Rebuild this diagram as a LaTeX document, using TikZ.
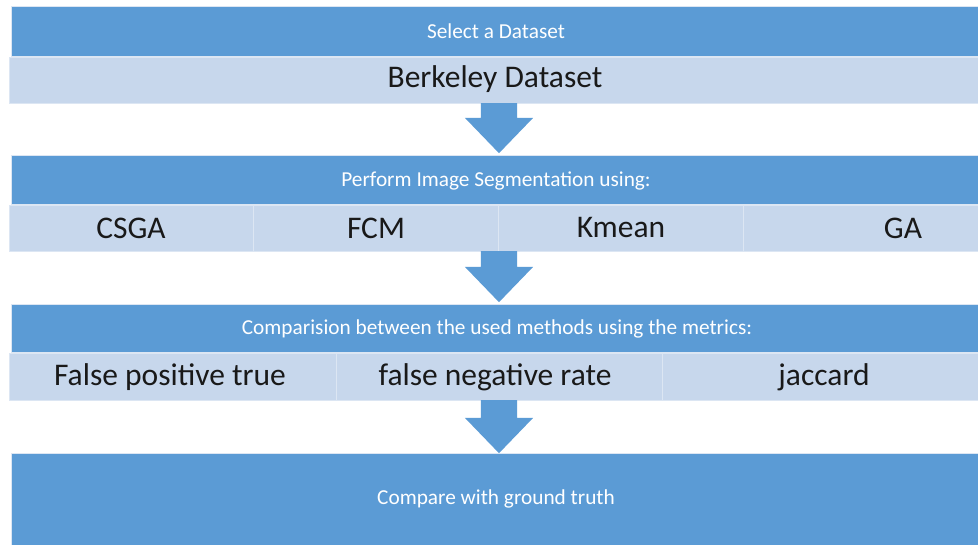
\documentclass[tikz,border=0pt]{standalone}
\usepackage{fontspec}
\setmainfont{Carlito}
\usetikzlibrary{shapes.arrows,calc}

\definecolor{darkblue}{HTML}{5B9BD5}
\definecolor{lightblue}{HTML}{C7D7EC}
\definecolor{celledge}{HTML}{DCE6F3}

\tikzset{
	header/.style={rectangle, fill=darkblue, draw=celledge, line width=0.6pt, inner sep=0pt, outer sep=0pt, anchor=north west},
	cell/.style={rectangle, fill=lightblue, draw=celledge, line width=0.8pt, inner sep=0pt, outer sep=0pt, anchor=north west},
	headtext/.style={text=white, font=\fontsize{21.3}{24}\selectfont},
	celltext/.style={text=black!90, font=\fontsize{31.5}{34}\selectfont},
	downarrow/.style={single arrow, fill=darkblue, draw=none, rotate=-90, anchor=tail, inner xsep=0pt, inner ysep=18pt, single arrow head extend=16pt, single arrow head indent=0pt, single arrow tip angle=88}
}

\begin{document}
\begin{tikzpicture}[x=1pt, y=-1pt]
	\clip (0,0) rectangle (978,545);
	\fill[white] (0,0) rectangle (978,545);

	% step 1
	\node[header, minimum width=990pt, minimum height=50pt] (head1) at (11,6) {};
	\node[headtext] (t1) at (496,31) {Select a Dataset};
	\node[cell, minimum width=990pt, minimum height=46pt] (data) at (9,57) {};
	\node[celltext] (berkeley) at (495,79) {Berkeley Dataset};

	% step 2
	\node[header, minimum width=990pt, minimum height=49pt] (head2) at (11,155) {};
	\node[headtext] (t2) at (496,181) {Perform Image Segmentation using:};
	\node[cell, minimum width=244pt, minimum height=46pt] (csga) at (9,205) {};
	\node[cell, minimum width=245pt, minimum height=46pt] (fcm) at (253,205) {};
	\node[cell, minimum width=245pt, minimum height=46pt] (kmean) at (498,205) {};
	\node[cell, minimum width=320pt, minimum height=46pt] (ga) at (743,205) {};
	\node[celltext] (l1) at (131,228) {CSGA};
	\node[celltext] (l2) at (376,228) {FCM};
	\node[celltext] (l3) at (621,228) {Kmean};
	\node[celltext] (l4) at (903,228) {GA};

	% step 3
	\node[header, minimum width=990pt, minimum height=48pt] (head3) at (11,304) {};
	\node[headtext] (t3) at (497,329) {Comparision between the used methods using the metrics:};
	\node[cell, minimum width=327pt, minimum height=47pt] (fpr) at (9,353) {};
	\node[cell, minimum width=326pt, minimum height=47pt] (fnr) at (336,353) {};
	\node[cell, minimum width=330pt, minimum height=47pt] (jac) at (662,353) {};
	\node[celltext] (m1) at (170,377) {False positive true};
	\node[celltext] (m2) at (495,377) {false negative rate};
	\node[celltext] (m3) at (824,377) {jaccard};

	% step 4
	\node[header, minimum width=990pt, minimum height=110pt] (final) at (11,453) {};
	\node[headtext] (t4) at (496,499) {Compare with ground truth};

	% arrows
	\node[downarrow, minimum height=50pt] (a1) at (499,103) {};
	\node[downarrow, minimum height=51pt] (a2) at (499,251) {};
	\node[downarrow, minimum height=53pt] (a3) at (499,400) {};
\end{tikzpicture}
\end{document}
